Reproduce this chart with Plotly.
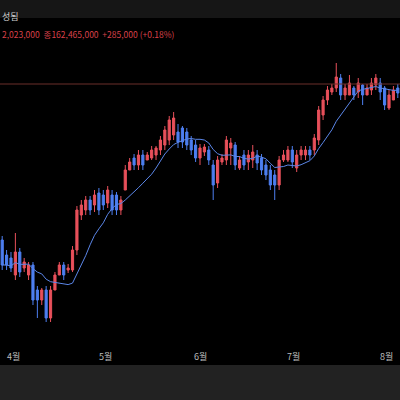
import plotly.graph_objects as go
import pandas as pd

# price levels (level = 400 - pixel row)
opens_y = [240,255,258,275,252,268,275,265,290,300,290,318,290,275,265,270,270,250,215,
           210,200,205,193,195,203,195,195,210,190,
           170,158,165,155,160,158,155,150,145,140,135,132,128,132,140,145,158,152,150,165,
           183,162,160,148,145,168,155,162,160,155,158,165,170,175,185,160,
           160,150,168,155,155,150,150,140,
           115,100,92,88,78,95,95,88,92,85,95,90,85,83,88,108,100,88]
closes_y= [265,265,268,252,272,262,265,300,300,290,318,290,275,265,275,268,250,210,205,
           200,210,195,210,205,190,210,210,200,170,
           162,165,155,165,155,150,148,140,130,120,118,142,142,145,150,158,148,147,160,185,
           160,158,140,143,165,160,165,155,152,163,170,175,185,185,160,155,
           150,162,155,150,150,155,138,110,
           100,90,88,77,95,88,83,95,83,95,88,83,78,92,105,95,90,93]
highs_y = [236,250,252,233,248,258,262,262,286,288,286,286,272,262,262,264,246,206,200,
           196,196,190,188,190,186,190,192,196,165,
           158,154,150,150,152,146,146,136,126,116,112,124,126,128,136,140,144,144,146,160,
           156,154,136,138,142,156,150,150,145,150,154,160,165,170,156,150,
           146,146,150,146,146,146,134,106,
           96,86,84,63,74,84,75,86,78,84,84,78,74,78,86,90,86,84]
lows_y  = [270,270,272,280,277,272,280,305,318,305,322,322,280,270,280,273,272,255,220,
           215,215,212,215,210,208,215,215,215,175,
           168,170,170,170,160,160,160,155,150,145,140,148,148,150,155,162,165,156,165,200,
           188,165,165,165,170,170,170,170,168,170,175,180,190,200,190,162,
           162,168,172,160,160,160,155,145,
           120,105,95,92,100,100,95,100,98,105,95,95,90,100,110,110,100,98]
month_labels = ["4월","5월","6월","7월","8월"]
month_px = [13,105,200,293,386]

n = len(opens_y)
o = [400-v for v in opens_y]; c = [400-v for v in closes_y]
h = [400-v for v in highs_y]; l = [400-v for v in lows_y]
h = [max(a,b,x) for a,b,x in zip(o,c,h)]; l = [min(a,b,x) for a,b,x in zip(o,c,l)]
xs = list(range(n))
ma = pd.Series(c).rolling(10, min_periods=1).mean()

RED = "#e8505b"; BLUE = "#4d7ff0"
fig = go.Figure()
fig.add_trace(go.Candlestick(x=xs, open=o, high=h, low=l, close=c,
    increasing=dict(line=dict(color=RED, width=1), fillcolor=RED),
    decreasing=dict(line=dict(color=BLUE, width=1), fillcolor=BLUE),
    whiskerwidth=0, hoverinfo="skip"))
fig.add_trace(go.Scatter(x=xs, y=ma, mode="lines", line=dict(color="#5b86e8", width=1), hoverinfo="skip"))

def xpix(p):
    return p*n/400 - 0.5

shapes = [
    dict(type="rect", xref="paper", yref="paper", x0=0, x1=1, y0=1-18/400, y1=1, fillcolor="#161616", line_width=0, layer="below"),
    dict(type="rect", xref="paper", yref="paper", x0=0, x1=1, y0=0, y1=35/400, fillcolor="#222222", line_width=0, layer="below"),
    dict(type="line", xref="paper", yref="y", x0=0, x1=1, y0=400-84, y1=400-84, line=dict(color="#6a2e2a", width=1)),
]
ann = [dict(x=xpix(p), y=400-356, xref="x", yref="y", text=t, showarrow=False,
            font=dict(color="#bbbbbb", size=9)) for t, p in zip(month_labels, month_px)]
ann.append(dict(x=0, y=1-8/400, xref="paper", yref="paper", xanchor="left", text="성됨", showarrow=False,
                font=dict(color="#cccccc", size=9)))
ann.append(dict(x=0, y=1-26/400, xref="paper", yref="paper", xanchor="left",
                text="2,023,000  종162,465,000  +285,000 (+0.18%)", showarrow=False,
                font=dict(color="#d9404a", size=8.5)))

fig.update_layout(width=400, height=400, margin=dict(l=0, r=0, t=0, b=0),
    paper_bgcolor="black", plot_bgcolor="black", showlegend=False,
    font=dict(family="Noto Sans CJK KR"),
    xaxis=dict(range=[-0.5, n-0.5], visible=False, rangeslider=dict(visible=False)),
    yaxis=dict(range=[0, 400], visible=False),
    shapes=shapes, annotations=ann)
fig.write_html("out.html", config={"displayModeBar": False},
               post_script="document.body.style.margin='0';document.body.style.background='black';")
